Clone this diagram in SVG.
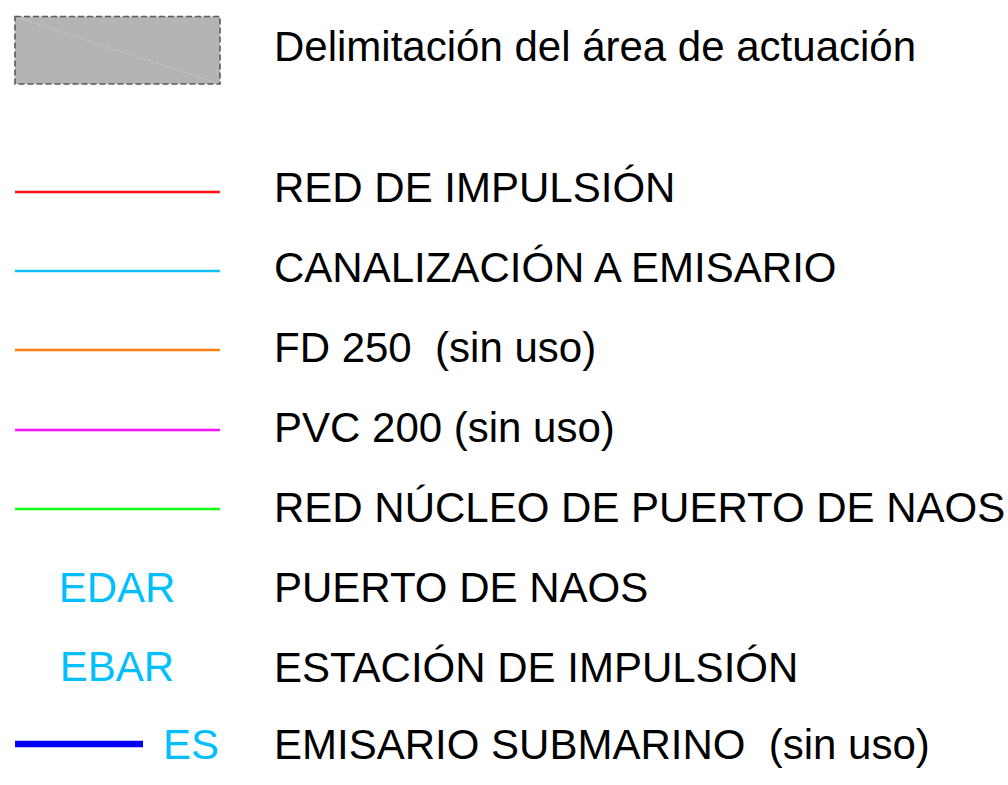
<svg xmlns="http://www.w3.org/2000/svg" width="1008" height="785" viewBox="0 0 1008 785">
<style>
.lbl{font-family:"Liberation Sans",Arial,sans-serif;font-size:42px;fill:#000;white-space:pre}
.sym{font-family:"Liberation Sans",Arial,sans-serif;font-size:42px;fill:#00bfff}
.ln{stroke-width:2.5;fill:none}
</style>
<rect width="1008" height="785" fill="#fff"/>
<g id="area">
<rect x="15" y="16.5" width="205" height="67.5" fill="#b4b4b4" stroke="#5a5a5a" stroke-width="1.6" stroke-dasharray="6,3"/>
<line x1="19" y1="18" x2="214" y2="82" stroke="#cfcfcf" stroke-width="1" stroke-dasharray="2,2"/>
<text class="lbl" x="274" y="61">Delimitación del área de actuación</text>
</g>
<g id="connectors">
<line class="ln" x1="15" y1="192" x2="220" y2="192" stroke="#ff1010"/>
<line class="ln" x1="15" y1="271" x2="220" y2="271" stroke="#10bfff"/>
<line class="ln" x1="15" y1="350" x2="220" y2="350" stroke="#ff8010"/>
<line class="ln" x1="15" y1="430" x2="220" y2="430" stroke="#ff10ff"/>
<line class="ln" x1="15" y1="509" x2="220" y2="509" stroke="#10ff10"/>
<line x1="15" y1="744" x2="143" y2="744" stroke="#0000ff" stroke-width="6.5"/>
</g>
<g id="red-impulsion"><text class="lbl" x="274" y="202">RED DE IMPULSIÓN</text></g>
<g id="canalizacion"><text class="lbl" x="274" y="282">CANALIZACIÓN A EMISARIO</text></g>
<g id="fd250"><text class="lbl" x="274" y="362">FD 250  (sin uso)</text></g>
<g id="pvc200"><text class="lbl" x="274" y="442">PVC 200 (sin uso)</text></g>
<g id="red-nucleo"><text class="lbl" x="274" y="522">RED NÚCLEO DE PUERTO DE NAOS</text></g>
<g id="edar"><text class="sym" x="117" y="602" text-anchor="middle">EDAR</text><text class="lbl" x="274" y="602">PUERTO DE NAOS</text></g>
<g id="ebar"><text class="sym" x="117" y="681" text-anchor="middle">EBAR</text><text class="lbl" x="274" y="682">ESTACIÓN DE IMPULSIÓN</text></g>
<g id="es"><text class="sym" x="163" y="759">ES</text><text class="lbl" x="274" y="759">EMISARIO SUBMARINO  (sin uso)</text></g>
</svg>
